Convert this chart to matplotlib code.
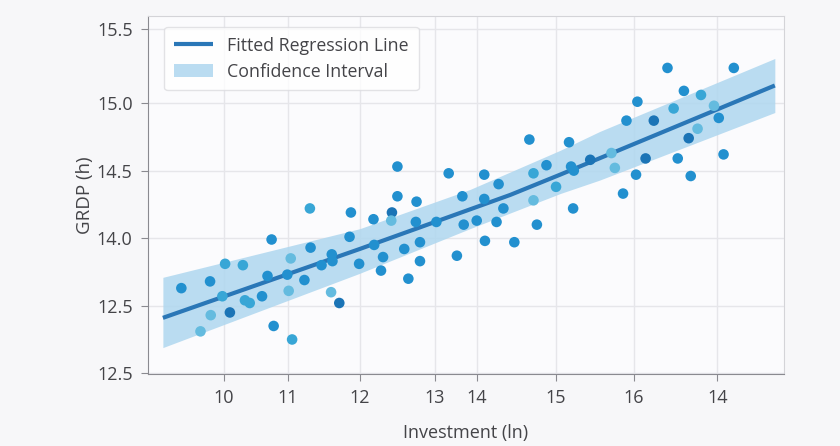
import numpy as np
import matplotlib.pyplot as plt

# ---- data (axis units as drawn) ----
inv = [9.38, 9.80, 10.02, 10.28, 9.98, 9.81, 10.09, 9.66, 10.31, 10.38,
       10.56, 10.64, 10.70, 10.73, 11.00, 10.98, 10.95, 10.93, 11.18, 11.26,
       11.27, 11.43, 11.58, 11.59, 11.57, 11.69, 11.86, 11.84, 11.98,
       12.19, 12.46, 12.45, 12.81, 13.11, 14.09, 13.70, 13.51, 13.99, 14.58,
       12.20, 12.33, 12.64, 12.87, 12.87, 12.30, 12.70, 13.41, 13.82, 14.25,
       12.54, 12.54, 12.82, 13.29, 13.49, 13.81, 13.81, 14.02, 14.47, 14.53,
       14.72, 14.86, 14.53,
       16.49, 17.46, 16.73, 16.98, 16.05, 17.17, 16.58, 17.24, 15.89, 16.29,
       16.93, 16.80, 15.05, 15.67, 15.36, 15.08, 15.12, 15.72, 16.17, 16.64,
       17.31, 16.03, 16.83, 15.84, 15.11]
grdp = [13.63, 13.68, 13.81, 13.80, 13.57, 13.43, 13.45, 13.31, 13.54, 13.52,
        13.57, 13.72, 13.99, 13.35, 13.25, 13.85, 13.61, 13.73, 13.69, 14.22,
        13.93, 13.80, 13.88, 13.83, 13.60, 13.52, 14.19, 14.01, 13.81,
        14.14, 14.19, 14.13, 14.12, 14.12, 14.22, 14.13, 14.10, 14.12, 14.10,
        13.95, 13.86, 13.92, 13.97, 13.83, 13.76, 13.70, 13.87, 13.98, 13.97,
        14.53, 14.31, 14.27, 14.48, 14.31, 14.47, 14.29, 14.40, 14.73, 14.48,
        14.54, 14.38, 14.28,
        15.26, 15.26, 15.09, 15.06, 15.01, 14.98, 14.96, 14.89, 14.87, 14.87,
        14.81, 14.74, 14.71, 14.63, 14.58, 14.53, 14.50, 14.52, 14.59, 14.59,
        14.62, 14.47, 14.46, 14.33, 14.22]
# shade of each dot: 0 medium, 1 cyan, 2 light, 3 dark
shade = [0, 0, 1, 1, 1, 2, 3, 2, 1, 1,
         0, 0, 0, 0, 1, 2, 2, 0, 0, 1,
         0, 0, 0, 0, 2, 3, 0, 0, 0,
         0, 3, 2, 0, 0, 0, 0, 0, 0, 0,
         0, 0, 0, 0, 0, 0, 0, 0, 0, 0,
         0, 0, 0, 0, 0, 0, 0, 0, 0, 1,
         0, 1, 2,
         0, 0, 0, 1, 0, 2, 1, 0, 0, 3,
         2, 3, 0, 2, 3, 0, 0, 2, 3, 0,
         0, 0, 0, 0, 0]

fit_x = [9.11, 11.99, 14.19, 14.92, 18.06]
fit_y = [13.41, 13.92, 14.32, 14.47, 15.13]

ci_x = [9.11, 11.99, 13.60, 14.92, 15.50, 18.06]
ci_lo = [13.19, 13.74, 14.07, 14.33, 14.43, 14.93]
ci_hi = [13.71, 14.07, 14.36, 14.65, 14.79, 15.33]

xtick_pos = [10.0, 10.94, 11.99, 13.09, 13.70, 14.86, 16.0, 17.22]
xtick_lab = ['10', '11', '12', '13', '14', '15', '16', '14']
ytick_pos = [13.0, 13.5, 14.0, 14.5, 15.0, 15.55]
ytick_lab = ['12.5', '12.5', '14.0', '14.5', '15.0', '15.5']

plt.rcParams['font.family'] = ['Open Sans', 'DejaVu Sans']
txt = '#444448'
palette = ['#2290cf', '#38a6d6', '#64bbdf', '#1b74b6']

fig = plt.figure(figsize=(8.4, 4.46), dpi=100, facecolor='#f7f7f9')
ax = fig.add_axes([0.176, 0.161, 0.757, 0.803])
ax.set_facecolor('#fbfbfd')

ax.fill_between(ci_x, ci_lo, ci_hi, color='#afd7ef', lw=0, alpha=0.85,
                label='Confidence Interval', zorder=2)
ax.plot(fit_x, fit_y, color='#2a77b7', lw=3, label='Fitted Regression Line',
        zorder=3, solid_capstyle='butt')
ax.scatter(inv, grdp, s=58, c=[palette[k] for k in shade], lw=0, zorder=4)

ax.set_xlim(8.89, 18.19)
ax.set_ylim(12.993, 15.644)
ax.set_xticks(xtick_pos)
ax.set_xticklabels(xtick_lab)
ax.set_yticks(ytick_pos)
ax.set_yticklabels(ytick_lab)
ax.grid(color='#e6e6ea', lw=1)
ax.set_axisbelow(True)

for s in ['left', 'bottom']:
    ax.spines[s].set_color('#8a8a90')
for s in ['top', 'right']:
    ax.spines[s].set_color('#d4d4d8')
ax.tick_params(colors='#8a8a90', labelcolor=txt, labelsize=13, length=5,
               pad=6)

ax.set_xlabel('Investment (ln)', fontsize=13, color=txt, labelpad=12)
ax.set_ylabel('GRDP (h)', fontsize=13.5, color=txt, labelpad=2)

h, l = ax.get_legend_handles_labels()
leg = ax.legend(h[::-1], l[::-1], loc='upper left', fontsize=12.8,
                frameon=True, fancybox=True, borderpad=0.55, labelspacing=0.45,
                handlelength=2.2, bbox_to_anchor=(0.012, 0.995))
leg.get_frame().set_edgecolor('#dcdce0')
leg.get_frame().set_facecolor('white')
for t in leg.get_texts():
    t.set_color(txt)

fig.savefig('out.png', dpi=100, facecolor=fig.get_facecolor())
